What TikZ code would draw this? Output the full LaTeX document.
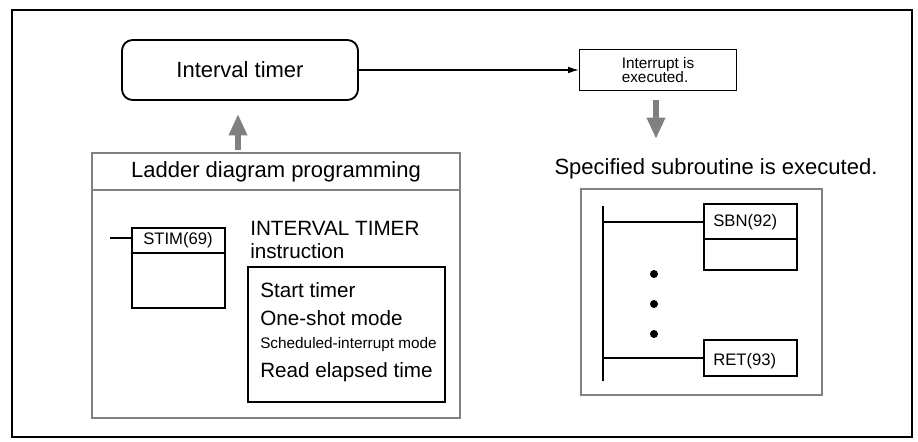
\documentclass[tikz,border=0pt]{standalone}
\usepackage{fontspec}
\setmainfont{Liberation Sans}
\usetikzlibrary{arrows.meta}
\begin{document}
\begin{tikzpicture}[x=0.75pt,y=-0.75pt,
    box/.style={draw, line width=0.8pt},
    panel/.style={draw=black!50, line width=2pt},
    flow/.style={-{Latex[length=8pt,width=5pt]}, line width=0.8pt},
    bigarrow/.style={-{Triangle[length=16pt,width=13pt]}, draw=black!50, line width=4pt},
    big/.style={font=\fontsize{16.5}{18}\selectfont},
    mid/.style={font=\fontsize{15.5}{17}\selectfont},
    small/.style={font=\fontsize{12.5}{13}\selectfont}]
            \useasboundingbox (0,0) rectangle (918,442);
            % frame
            \draw[line width=0.8pt] (12,10) rectangle (912,437);

            % interval timer and interrupt
            \node[box, line width=1.4pt, rounded corners=8pt, minimum width=177pt, minimum height=45pt, big] (timer) at (240,70) {Interval timer};
            \node[box, minimum width=118pt, minimum height=31pt, align=left, font=\fontsize{11.5}{11}\selectfont] (intr) at (658,70) {Interrupt is\\executed.};
            \draw[flow] (timer) -- (intr);

            % ladder panel
            \draw[panel] (92,153) rectangle (460,418);
            \draw[panel, line width=1.5pt] (92,190) -- (460,190);
            \node[big] (title) at (276,172) {Ladder diagram programming};
            \draw[bigarrow] (238,150) -- (238,114);
            \draw[box] (132,228) rectangle (225,308);
            \draw[box] (132,253) -- (225,253);
            \node[small, anchor=west, inner sep=0pt] (stim) at (143,240) {STIM(69)};
            \coordinate (stub) at (110,238);
            \draw[line width=0.8pt] (stub) -- (132,238);
            \node[mid, anchor=north west, align=left, inner sep=0pt] (instr) at (250,221) {INTERVAL TIMER\\instruction};
            \draw[box] (248,267) rectangle (445,402);
            \node[mid, anchor=west, inner sep=0pt] (start) at (260,290) {Start timer};
            \node[mid, anchor=west, inner sep=0pt] (oneshot) at (260,318) {One-shot mode};
            \node[font=\fontsize{11.5}{13}\selectfont, anchor=west, inner sep=0pt] (sched) at (260,345) {Scheduled-interrupt mode};
            \node[mid, anchor=west, inner sep=0pt] (read) at (260,372) {Read elapsed time};

            % subroutine
            \draw[bigarrow] (656,100) -- (656,139);
            \node[big] (spec) at (716,169) {Specified subroutine is executed.};
            \draw[panel] (581,189) rectangle (822,395);
            \draw[line width=0.8pt] (603,206) -- (603,381);
            \draw[box] (704,204) rectangle (797,270);
            \draw[box] (704,239) -- (797,239);
            \node[small, anchor=west, inner sep=0pt] (sbn) at (713,222) {SBN(92)};
            \draw[line width=0.8pt] (603,222) -- (704,222);
            \node[box, minimum width=69.75pt, minimum height=27pt, inner sep=0pt] (ret) at (750.5,358) {};
            \node[small, anchor=west, inner sep=0pt] (retlbl) at (713,361) {RET(93)};
            \draw[line width=0.8pt] (603,358) -- (ret.west);
            \foreach \y in {274,304,334} {
                \fill (654,\y) circle (3pt);
            }
        \end{tikzpicture}
\end{document}
